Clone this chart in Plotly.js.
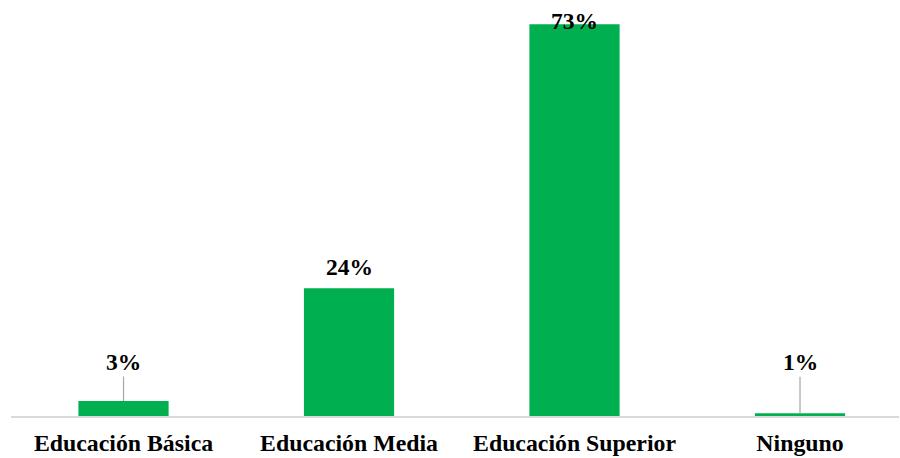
<!DOCTYPE html>
<html><head><meta charset="utf-8">
<script src="https://cdn.plot.ly/plotly-3.0.1.min.js"></script>
<style>html,body{margin:0;padding:0;background:#fff}#chart{width:900px;height:458px}</style>
</head><body><div id="chart"></div>
<script>
const categories = ["Educación Básica", "Educación Media", "Educación Superior", "Ninguno"];
const values = [2.8, 23.8, 73, 0.5];
const labels = ["3%", "24%", "73%", "1%"];
const leader = [true, false, false, true];

const FAM = "Liberation Serif";
const font = {family: FAM, size: 23.5, color: "#000", weight: "bold"};
const annotations = categories.map((c, i) => {
  if (leader[i]) {
    return {x: c, y: values[i], xref: "x", yref: "y", text: labels[i],
      showarrow: true, arrowhead: 0, arrowwidth: 1.2, arrowcolor: "#A6A6A6", ax: 0,
      ay: i === 0 ? -39 : -51, font: font};
  }
  return {x: c, y: values[i], xref: "x", yref: "y", text: labels[i],
    showarrow: false, yanchor: "middle", yshift: i === 2 ? 3 : 21, font: font};
});

Plotly.newPlot("chart", [{
  type: "bar", x: categories, y: values, width: 0.4,
  marker: {color: "#00B050"}, hoverinfo: "none", cliponaxis: false
}], {
  width: 900, height: 458,
  margin: {l: 11, r: 1, t: 0, b: 42},
  paper_bgcolor: "#fff", plot_bgcolor: "#fff",
  showlegend: false,
  xaxis: {type: "category", range: [-0.499, 3.439], showline: true, linecolor: "#D9D9D9", linewidth: 1.5,
    ticks: "", ticklabelstandoff: 5,
    tickfont: {family: FAM, size: 23.8, color: "#000", weight: "bold"},
    fixedrange: true},
  yaxis: {range: [0, 77.5], visible: false, showgrid: false, zeroline: false, fixedrange: true},
  annotations: annotations
}, {displayModeBar: false, staticPlot: true});
</script></body></html>
